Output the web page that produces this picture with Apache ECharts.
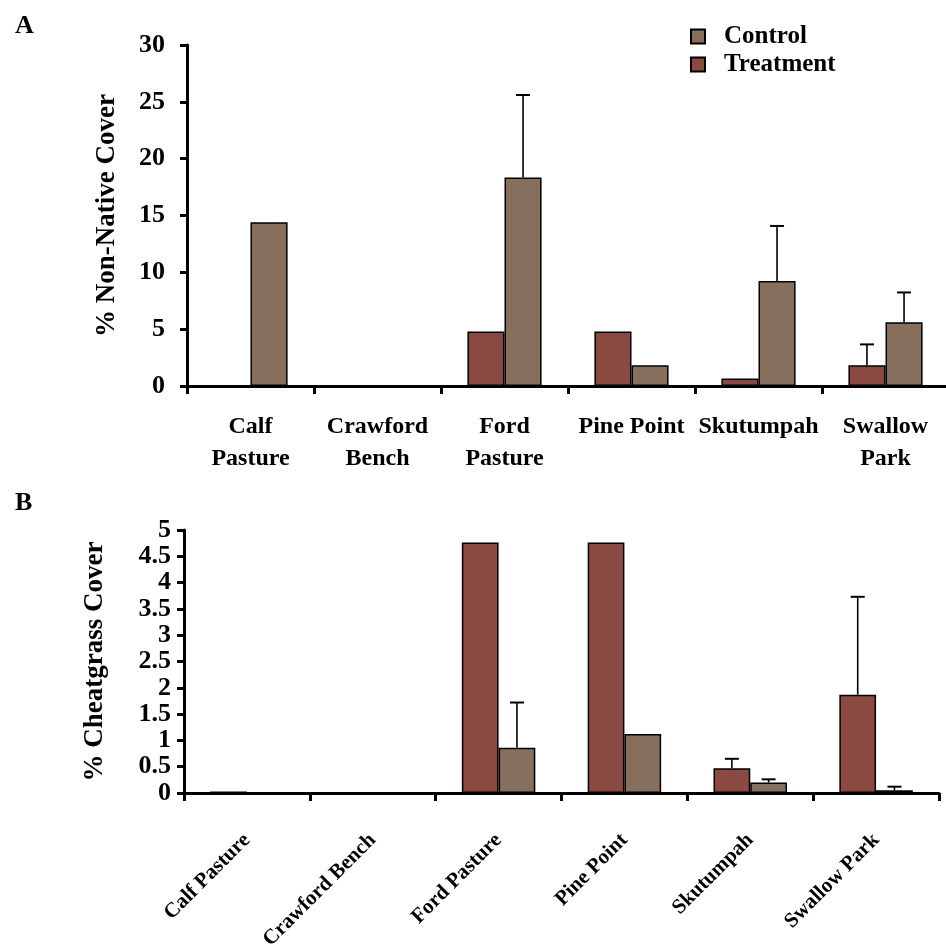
<!DOCTYPE html>
<html>
<head>
<meta charset="utf-8">
<script src="https://cdn.jsdelivr.net/npm/echarts@6/dist/echarts.min.js"></script>
<style>
html,body{margin:0;padding:0;background:#fff;}
#chart{width:946px;height:951px;}
</style>
</head>
<body>
<div id="chart"></div>
<script>
// ---- data ----
const categoriesA = ['Calf\nPasture', 'Crawford\nBench', 'Ford\nPasture', 'Pine Point', 'Skutumpah', 'Swallow\nPark'];
const categoriesB = ['Calf Pasture', 'Crawford Bench', 'Ford Pasture', 'Pine Point', 'Skutumpah', 'Swallow Park'];

const nonNativeTreatment = [0, 0, 4.8, 4.8, 0.65, 1.82];
const nonNativeControl   = [14.4, 0, 18.35, 1.82, 9.23, 5.6];
const nonNativeTreatmentErr = [0, 0, 0, 0, 0, 1.84];
const nonNativeControlErr   = [0, 0, 7.25, 0, 4.85, 2.63];

const cheatTreatment = [0.03, 0, 4.76, 4.76, 0.47, 1.87];
const cheatControl   = [0, 0, 0.86, 1.12, 0.2, 0.05];
const cheatTreatmentErr = [0, 0, 0, 0, 0.18, 1.86];
const cheatControlErr   = [0, 0, 0.86, 0, 0.06, 0.07];

const ticksA = {min: 0, max: 30, interval: 5};
const ticksB = {min: 0, max: 5, interval: 0.5};

// ---- style ----
const FONT = "'Liberation Serif', 'Times New Roman', serif";
const RED = '#8A4941';
const BROWN = '#876F5D';
const BAR_FRAC = 0.292;

function errSeries(name, vals, errs, gridIdx, side) {
  return {
    type: 'custom',
    name: name + ' err',
    xAxisIndex: gridIdx, yAxisIndex: gridIdx,
    silent: true,
    z: 5,
    data: vals.map((v, i) => [i, v, errs[i]]),
    encode: {x: 0, y: 1},
    renderItem: function (params, api) {
      const i = api.value(0), v = api.value(1), e = api.value(2);
      if (!(e > 0)) return null;
      const bw = api.size([1, 0])[0] * BAR_FRAC;
      const off = side * bw / 2;
      const base = api.coord([i, v]);
      const top = api.coord([i, v + e]);
      const x = base[0] + off;
      const cap = 7;
      return {
        type: 'group',
        children: [
          {type: 'line', shape: {x1: x, y1: base[1], x2: x, y2: top[1]}, style: {stroke: '#000', lineWidth: 1.6}},
          {type: 'line', shape: {x1: x - cap, y1: top[1], x2: x + cap, y2: top[1]}, style: {stroke: '#000', lineWidth: 2}}
        ]
      };
    }
  };
}

function barSeries(name, vals, color, gridIdx) {
  return {
    type: 'bar', name: name,
    xAxisIndex: gridIdx, yAxisIndex: gridIdx,
    data: vals,
    barWidth: (BAR_FRAC * 100) + '%',
    barGap: '0%',
    itemStyle: {color: color, borderColor: '#000', borderWidth: 1.5},
    emphasis: {disabled: true}
  };
}

const axisLineStyle = {color: '#000', width: 3};

const option = {
  animation: false,
  backgroundColor: '#fff',
  textStyle: {fontFamily: FONT},
  title: [
    {text: 'A', left: 10, top: 8, textStyle: {fontFamily: FONT, fontWeight: 'bold', fontSize: 26, color: '#000'}},
    {text: 'B', left: 10, top: 485, textStyle: {fontFamily: FONT, fontWeight: 'bold', fontSize: 26, color: '#000'}}
  ],
  legend: {
    orient: 'vertical',
    left: 685, top: 19,
    itemWidth: 14, itemHeight: 14,
    itemGap: 3,
    icon: 'rect',
    data: ['Control', 'Treatment'],
    textStyle: {fontFamily: FONT, fontWeight: 'bold', fontSize: 25, color: '#000', padding: [0, 0, 0, 14]},
    selectedMode: false
  },
  grid: [
    {left: 187, top: 45, width: 762, height: 341, containLabel: false, outerBoundsMode: 'none'},
    {left: 184, top: 530, width: 755, height: 263, containLabel: false, outerBoundsMode: 'none'}
  ],
  xAxis: [
    {
      type: 'category', gridIndex: 0, data: categoriesA,
      axisLine: {lineStyle: axisLineStyle},
      axisTick: {show: true, length: 8, lineStyle: {width: 3, color: '#000'}},
      axisLabel: {interval: 0, color: '#000', fontFamily: FONT, fontWeight: 'bold', fontSize: 24, lineHeight: 32, margin: 25}
    },
    {
      type: 'category', gridIndex: 1, data: categoriesB,
      axisLine: {lineStyle: axisLineStyle},
      axisTick: {show: true, length: 8, lineStyle: {width: 3, color: '#000'}},
      axisLabel: {interval: 0, rotate: 45, color: '#000', fontFamily: FONT, fontWeight: 'bold', fontSize: 21, margin: 44}
    }
  ],
  yAxis: [
    {
      type: 'value', gridIndex: 0, min: ticksA.min, max: ticksA.max, interval: ticksA.interval,
      name: '% Non-Native Cover', nameLocation: 'middle', nameGap: 66,
      nameTextStyle: {fontFamily: FONT, fontWeight: 'bold', fontSize: 27, color: '#000'},
      axisLine: {show: true, lineStyle: axisLineStyle},
      axisTick: {show: true, length: 7, lineStyle: {width: 3, color: '#000'}},
      splitLine: {show: false},
      axisLabel: {color: '#000', fontFamily: FONT, fontWeight: 'bold', fontSize: 26, margin: 22, showMinLabel: true, showMaxLabel: true}
    },
    {
      type: 'value', gridIndex: 1, min: ticksB.min, max: ticksB.max, interval: ticksB.interval,
      name: '% Cheatgrass Cover', nameLocation: 'middle', nameGap: 75,
      nameTextStyle: {fontFamily: FONT, fontWeight: 'bold', fontSize: 27, color: '#000'},
      axisLine: {show: true, lineStyle: axisLineStyle},
      axisTick: {show: true, length: 7, lineStyle: {width: 3, color: '#000'}},
      splitLine: {show: false},
      axisLabel: {color: '#000', fontFamily: FONT, fontWeight: 'bold', fontSize: 26, lineHeight: 18, margin: 13, showMinLabel: true, showMaxLabel: true, hideOverlap: false}
    }
  ],
  series: [
    barSeries('Treatment', nonNativeTreatment, RED, 0),
    barSeries('Control', nonNativeControl, BROWN, 0),
    barSeries('Treatment', cheatTreatment, RED, 1),
    barSeries('Control', cheatControl, BROWN, 1),
    errSeries('Treatment', nonNativeTreatment, nonNativeTreatmentErr, 0, -1),
    errSeries('Control', nonNativeControl, nonNativeControlErr, 0, 1),
    errSeries('Treatment', cheatTreatment, cheatTreatmentErr, 1, -1),
    errSeries('Control', cheatControl, cheatControlErr, 1, 1)
  ]
};

const chart = echarts.init(document.getElementById('chart'), null, {renderer: 'canvas'});
chart.setOption(option);
</script>
</body>
</html>
